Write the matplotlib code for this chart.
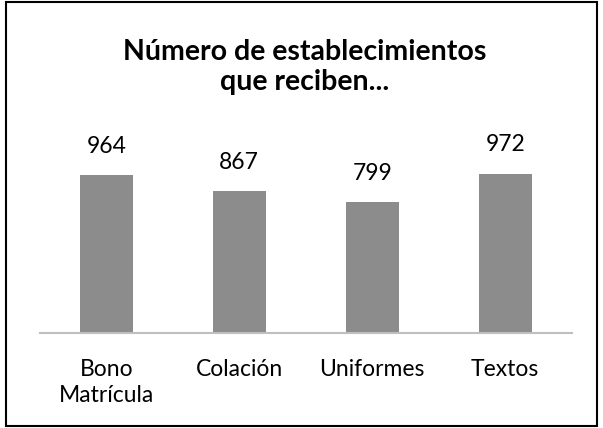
import matplotlib
matplotlib.use('Agg')
from matplotlib import pyplot as plt
from matplotlib.patches import Rectangle

categories = ['Bono\nMatrícula', 'Colación', 'Uniformes', 'Textos']
values = [964, 867, 799, 972]
title = 'Número de establecimientos\nque reciben...'

plt.rcParams['font.family'] = ['Lato', 'DejaVu Sans']

fig = plt.figure(figsize=(6.03, 4.28), dpi=100)
ax = fig.add_axes([0.066, 0.222, 0.882, 0.46])

x = range(len(categories))
bars = ax.bar(x, values, width=0.4, color='#8c8c8c')
for b, v in zip(bars, values):
    ax.text(b.get_x() + b.get_width() / 2, v + 175, str(v),
            ha='center', va='center', fontsize=16.5)

ax.set_xlim(-0.5, len(categories) - 0.5)
ax.set_ylim(0, 1200)
ax.set_xticks(list(x))
ax.set_xticklabels(categories, fontsize=16.5, linespacing=1.3)
ax.tick_params(axis='x', length=0, pad=19)
ax.set_yticks([])
for s in ['top', 'right', 'left']:
    ax.spines[s].set_visible(False)
ax.spines['bottom'].set_color('#bfbfbf')
ax.spines['bottom'].set_linewidth(1.5)

fig.text(0.505, 0.843, title, ha='center', va='center', fontsize=20.5,
         fontweight='bold', linespacing=1.2)

fig.patches.append(Rectangle((0.01, 0.005), 0.98, 0.99, transform=fig.transFigure,
                             fill=False, edgecolor='black', linewidth=1.5))

fig.savefig('out.png', dpi=100)
